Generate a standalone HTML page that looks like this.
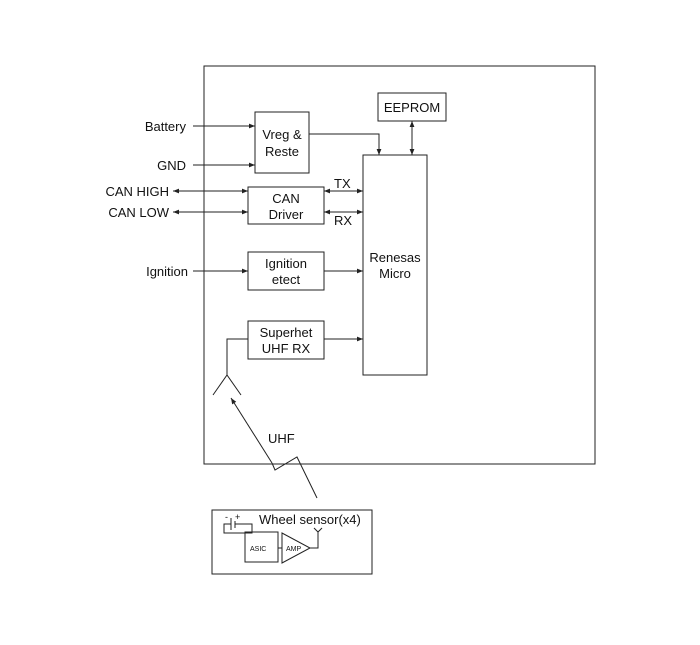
<!DOCTYPE html>
<html><head><style>body{margin:0;background:#fff}</style></head><body>
<svg width="700" height="640" xmlns="http://www.w3.org/2000/svg" font-family="Liberation Sans, sans-serif" font-size="13" fill="none" stroke="#222" stroke-width="1">
<defs><marker id="a" viewBox="0 0 10 10" refX="10" refY="5" markerWidth="7" markerHeight="6" markerUnits="userSpaceOnUse" orient="auto-start-reverse"><path d="M0,1 L10,5 L0,9z" fill="#222" stroke="none"/></marker></defs>
<rect x="204" y="66" width="391" height="398"/>
<rect x="378" y="93" width="68" height="28"/>
<rect x="255" y="112" width="54" height="61"/>
<rect x="248" y="187" width="76" height="37"/>
<rect x="248" y="252" width="76" height="38"/>
<rect x="248" y="321" width="76" height="38"/>
<rect x="363" y="155" width="64" height="220"/>
<rect x="212" y="510" width="160" height="64"/>
<rect x="245" y="532" width="33" height="30"/>
<g fill="#111" stroke="none">
<text x="412" y="112" text-anchor="middle">EEPROM</text>
<text x="282" y="139" text-anchor="middle">Vreg &amp;</text>
<text x="282" y="156" text-anchor="middle">Reste</text>
<text x="286" y="203" text-anchor="middle">CAN</text>
<text x="286" y="219" text-anchor="middle">Driver</text>
<text x="286" y="268" text-anchor="middle">Ignition</text>
<text x="286" y="284" text-anchor="middle">etect</text>
<text x="286" y="337" text-anchor="middle">Superhet</text>
<text x="286" y="353" text-anchor="middle">UHF RX</text>
<text x="395" y="262" text-anchor="middle">Renesas</text>
<text x="395" y="278" text-anchor="middle">Micro</text>
<text x="334" y="188">TX</text>
<text x="334" y="225">RX</text>
<text x="186" y="131" text-anchor="end">Battery</text>
<text x="186" y="170" text-anchor="end">GND</text>
<text x="169" y="196" text-anchor="end">CAN HIGH</text>
<text x="169" y="217" text-anchor="end">CAN LOW</text>
<text x="188" y="276" text-anchor="end">Ignition</text>
<text x="268" y="443">UHF</text>
<text x="259" y="524">Wheel sensor(x4)</text>
<text x="250" y="551" font-size="7">ASIC</text>
<text x="286" y="551" font-size="7">AMP</text>
<text x="225" y="520" font-size="9">-</text>
<text x="235" y="520" font-size="9">+</text>
</g>
<g marker-end="url(#a)">
<path d="M193,126H255"/>
<path d="M193,165H255"/>
<path d="M193,271H248"/>
<path d="M173,191H248" marker-start="url(#a)"/>
<path d="M173,212H248" marker-start="url(#a)"/>
<path d="M309,134H379V155"/>
<path d="M412,121V155" marker-start="url(#a)"/>
<path d="M324,191H363" marker-start="url(#a)"/>
<path d="M324,212H363" marker-start="url(#a)"/>
<path d="M324,271H363"/>
<path d="M324,339H363"/>
<path d="M272,463L231,398"/>
</g>
<path d="M227,375V339H248M213,395L227,375L241,395M317,498L297,457L275,470L272,463"/>
<path d="M282,533V563L310,548Z M278,548H282 M310,548H318V532 M314,528L318,532L322,528 M231,518V530 M235,521V528 M231,524H224V533H252V524H235"/>
</svg>
</body></html>
